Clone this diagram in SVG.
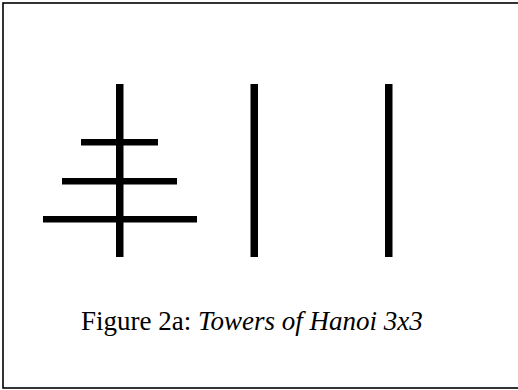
<svg xmlns="http://www.w3.org/2000/svg" width="518" height="390" viewBox="0 0 518 390">
<style>
.bar{fill:#000}
.cap{font-family:"Liberation Serif","Times New Roman",serif;font-size:27px;fill:#000}
</style>
<rect x="0" y="0" width="518" height="390" fill="#fff"/>
<rect x="3" y="3" width="522" height="385" fill="none" stroke="#000" stroke-width="1.6"/>
<g id="peg1">
<rect class="bar" x="116" y="84" width="7.5" height="173"/>
</g>
<g id="peg2">
<rect class="bar" x="250.5" y="84" width="7.5" height="173"/>
</g>
<g id="peg3">
<rect class="bar" x="385" y="84" width="7.5" height="173"/>
</g>
<g id="disc1">
<rect class="bar" x="81" y="139" width="77" height="6.5"/>
</g>
<g id="disc2">
<rect class="bar" x="62" y="178" width="115" height="6.5"/>
</g>
<g id="disc3">
<rect class="bar" x="43" y="216" width="154" height="6.5"/>
</g>
<g id="connectors"></g>
<text class="cap" x="81" y="329.5">Figure 2a: <tspan font-style="italic">Towers of Hanoi 3x3</tspan></text>
</svg>
